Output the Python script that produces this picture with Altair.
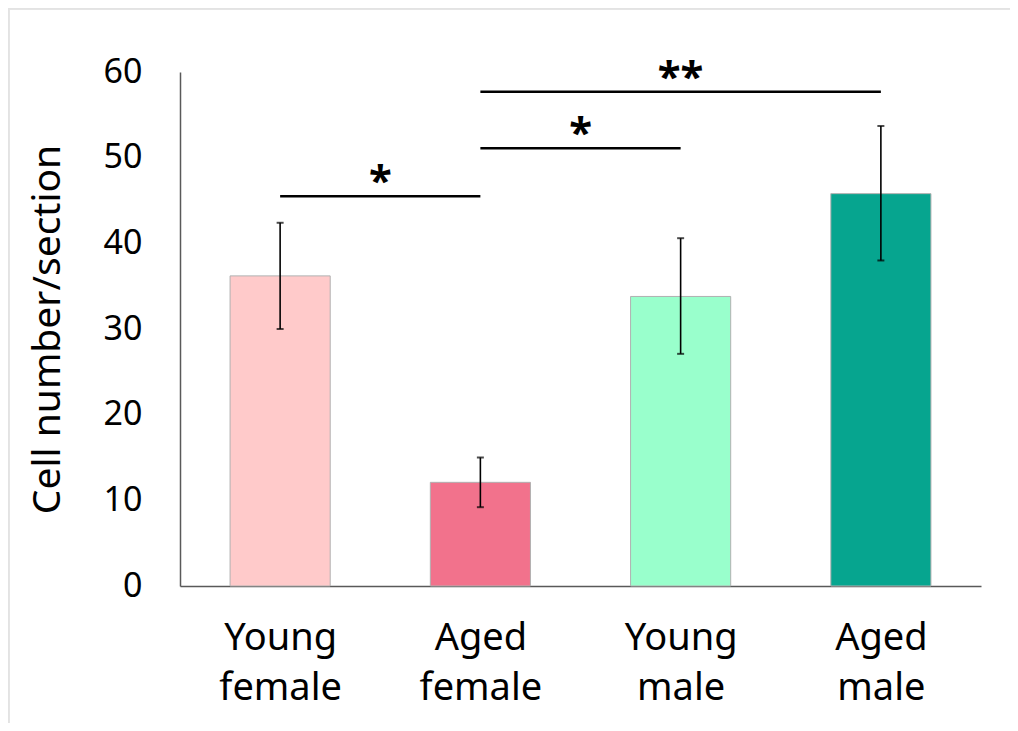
import json
import altair as alt
import pandas as pd

# ---- data ----
categories = ["Young female", "Aged female", "Young male", "Aged male"]
means = [36.2, 12.1, 33.8, 45.8]
err_upper = [42.4, 15.0, 40.6, 53.7]
err_lower = [30.0, 9.2, 27.1, 38.0]
bar_colors = ["#FFCACA", "#F2728C", "#99FFCC", "#06A58F"]

sig_from = [0, 1, 1]
sig_to = [1, 2, 3]
sig_y = [45.5, 51.1, 57.7]
sig_label = ["*", "*", "**"]

y_ticks = [0, 10, 20, 30, 40, 50, 60]

FONT = "Noto Sans"

bars_df = pd.DataFrame({
    "idx": list(range(len(categories))),
    "group": categories,
    "mean": means,
    "hi": err_upper,
    "lo": err_lower,
})
sig_df = pd.DataFrame({"a": sig_from, "b": sig_to, "y": sig_y, "label": sig_label})

x_scale = alt.Scale(domain=[-0.5, len(categories) - 0.5], nice=False, zero=False)
y_scale = alt.Scale(domain=[0, 60], nice=False)

label_expr = "split(%s[datum.value], ' ')" % json.dumps(categories)

x_axis = alt.Axis(
    values=list(range(len(categories))), labelExpr=label_expr, title=None,
    grid=False, ticks=False, domainColor="#595959", domainWidth=1.5,
    labelFont=FONT, labelFontSize=38, labelColor="#000000",
    labelPadding=33, labelLineHeight=50, labelBaseline="top",
)
y_axis = alt.Axis(
    values=y_ticks, title="Cell number/section", grid=False, ticks=False,
    domainColor="#595959", domainWidth=1.5,
    labelFont=FONT, labelFontSize=34, labelColor="#000000", labelPadding=38,
    titleFont=FONT, titleFontSize=39, titleFontWeight="normal", titleColor="#000000",
    titleAngle=-90, titleX=-133, titleY=257, titleAlign="center", titleBaseline="middle",
)

base = alt.Chart(bars_df).transform_calculate(
    x_lo="datum.idx - 0.25", x_hi="datum.idx + 0.25"
)

bars = base.mark_bar(stroke="#b0b0b0", strokeWidth=1).encode(
    x=alt.X("x_lo:Q", scale=x_scale, axis=x_axis),
    x2="x_hi:Q",
    y=alt.Y("mean:Q", scale=y_scale, axis=y_axis),
    y2=alt.datum(0),
    color=alt.Color("group:N", scale=alt.Scale(domain=categories, range=bar_colors), legend=None),
)

err_rule = alt.Chart(bars_df).mark_rule(color="#000000", strokeWidth=1.6).encode(
    x=alt.X("idx:Q", scale=x_scale), y=alt.Y("lo:Q", scale=y_scale), y2="hi:Q"
)
cap_hi = alt.Chart(bars_df).mark_tick(color="#000000", thickness=2, size=7, orient="horizontal").encode(
    x=alt.X("idx:Q", scale=x_scale), y=alt.Y("hi:Q", scale=y_scale)
)
cap_lo = alt.Chart(bars_df).mark_tick(color="#000000", thickness=2, size=7, orient="horizontal").encode(
    x=alt.X("idx:Q", scale=x_scale), y=alt.Y("lo:Q", scale=y_scale)
)

sig_lines = alt.Chart(sig_df).mark_rule(color="#000000", strokeWidth=2.6).encode(
    x=alt.X("a:Q", scale=x_scale), x2="b:Q", y=alt.Y("y:Q", scale=y_scale)
)
sig_text = alt.Chart(sig_df).transform_calculate(mid="(datum.a + datum.b) / 2").mark_text(
    font=FONT, fontSize=42, fontWeight="bold", color="#000000", baseline="alphabetic", dy=-1
).encode(
    x=alt.X("mid:Q", scale=x_scale), y=alt.Y("y:Q", scale=y_scale), text="label:N"
)

# light grey frame (top and left edges) around the figure
frame_top = alt.Chart(bars_df).mark_rule(color="#e3e3e3", strokeWidth=3, clip=False).encode(
    x=alt.value(-172), x2=alt.value(840), y=alt.value(-64)
)
frame_left = alt.Chart(bars_df).mark_rule(color="#e3e3e3", strokeWidth=3, clip=False).encode(
    x=alt.value(-172), y=alt.value(-64), y2=alt.value(651)
)

chart = alt.layer(
    frame_top, frame_left, bars, err_rule, cap_hi, cap_lo, sig_lines, sig_text
).properties(
    width=801, height=514,
    autosize=alt.AutoSizeParams(type="none"),
    padding={"left": 172, "top": 64, "right": 29, "bottom": 137},
    background="#ffffff",
).configure_view(stroke=None)

chart.save("out.html", embed_options={"renderer": "svg", "actions": False})
